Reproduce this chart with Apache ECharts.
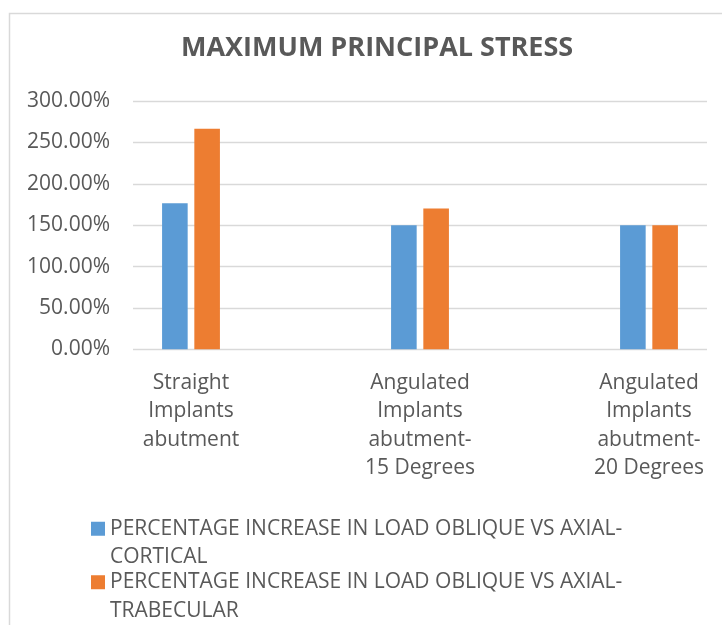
<!DOCTYPE html>
<html>
<head>
<meta charset="utf-8">
<script src="https://cdn.jsdelivr.net/npm/echarts@6/dist/echarts.min.js"></script>
<style>html,body{margin:0;padding:0;background:#fff}#c{width:722px;height:625px}</style>
</head>
<body>
<div id="c"></div>
<script>
const titleText = 'MAXIMUM PRINCIPAL STRESS';
const categories = ['Straight\nImplants\nabutment', 'Angulated\nImplants\nabutment-\n15 Degrees', 'Angulated\nImplants\nabutment-\n20 Degrees'];
const seriesNames = ['PERCENTAGE INCREASE IN LOAD OBLIQUE VS AXIAL-CORTICAL', 'PERCENTAGE INCREASE IN LOAD OBLIQUE VS AXIAL-TRABECULAR'];
const cortical = [176.5, 150, 150];
const trabecular = [266.4, 170, 150];
const yTicks = {min: 0, max: 300, interval: 50};

const FONT = '"Open Sans", sans-serif';
const TXT = '#595959';
const chart = echarts.init(document.getElementById('c'), null, {renderer: 'canvas'});
const L = 28.5;
chart.setOption({
  backgroundColor: '#fff',
  animation: false,
  graphic: [{type: 'rect', shape: {x: 9.5, y: 13.5, width: 800, height: 700}, style: {fill: 'none', stroke: '#d9d9d9', lineWidth: 1.5}, silent: true}],
  title: {text: titleText, left: 176, top: 30, textStyle: {fontFamily: FONT, fontSize: 27, fontWeight: 'bold', color: TXT}},
  grid: [
    {left: 133, right: 15, top: 101, bottom: 275.7, outerBoundsMode: 'none'},
    {left: 76.5, width: 687, top: 101, bottom: 275.7, outerBoundsMode: 'none'}
  ],
  xAxis: [
    {type: 'category', gridIndex: 0, data: categories, show: false},
    {type: 'category', gridIndex: 1, data: categories, axisLine: {show: false}, axisTick: {show: false},
     axisLabel: {interval: 0, margin: 19, fontFamily: FONT, fontSize: 21, color: TXT, lineHeight: L, align: 'center'}}
  ],
  yAxis: [
    {type: 'value', gridIndex: 0, min: yTicks.min, max: yTicks.max, interval: yTicks.interval,
     axisLine: {show: false}, axisTick: {show: false},
     splitLine: {lineStyle: {color: '#d9d9d9', width: 1.3}},
     axisLabel: {margin: 23, fontFamily: FONT, fontSize: 21, color: TXT, formatter: v => v.toFixed(2) + '%'}},
    {type: 'value', gridIndex: 1, min: yTicks.min, max: yTicks.max, interval: yTicks.interval, show: false, splitLine: {show: false}}
  ],
  legend: {
    orient: 'vertical', left: 86, top: 481, height: 200, itemWidth: 14, itemHeight: 14, icon: 'rect', itemGap: -32,
    formatter: n => '\n' + n.replace('AXIAL-', 'AXIAL-\n'),
    textStyle: {fontFamily: FONT, fontSize: 21, color: TXT, lineHeight: L},
    data: seriesNames
  },
  series: [
    {name: seriesNames[0], type: 'bar', xAxisIndex: 1, yAxisIndex: 1, data: cortical, barWidth: 25.6, barGap: '26%', itemStyle: {color: '#5B9BD5'}},
    {name: seriesNames[1], type: 'bar', xAxisIndex: 1, yAxisIndex: 1, data: trabecular, barWidth: 25.6, barGap: '26%', itemStyle: {color: '#ED7D31'}}
  ]
});
</script>
</body>
</html>
